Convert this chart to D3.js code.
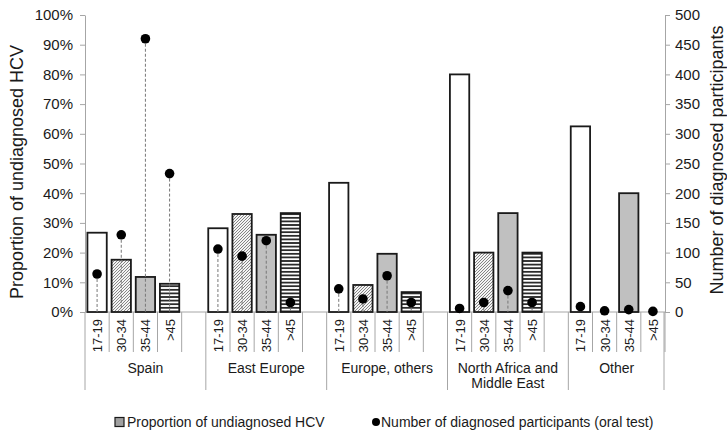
<!DOCTYPE html>
<html>
<head>
<meta charset="utf-8">
<script src="https://cdn.jsdelivr.net/npm/d3@7"></script>
<style>
  body { margin: 0; background: #fff; }
  svg text { font-family: "Liberation Sans", Arial, sans-serif; fill: #1a1a1a; }
  .axis path, .axis line { stroke: #a6a6a6; }
</style>
</head>
<body>
<div id="chart-area"></div>
<script>
// regions and age groups on the x axis
var regions = ["Spain", "East Europe", "Europe, others", "North Africa and Middle East", "Other"];
var regionLabels = [["Spain"], ["East Europe"], ["Europe, others"], ["North Africa and", "Middle East"], ["Other"]];
var ageGroups = ["17-19", "30-34", "35-44", ">45"];

// proportion of undiagnosed HCV (%), one row per region
var undiagnosedPct = [
  [26.7, 17.6, 11.8, 9.5],
  [28.2, 33.0, 26.0, 33.3],
  [43.5, 9.1, 19.6, 6.7],
  [80.0, 20.0, 33.3, 20.0],
  [62.5, 0, 40.0, 0]
];

// number of diagnosed participants (oral test)
var diagnosedCount = [
  [64, 130, 460, 233],
  [106, 94, 120, 16],
  [39, 22, 61, 16],
  [6, 16, 36, 16],
  [9, 2, 4, 1]
];

var leftTicks = [0, 0.1, 0.2, 0.3, 0.4, 0.5, 0.6, 0.7, 0.8, 0.9, 1];
var rightTicks = [0, 50, 100, 150, 200, 250, 300, 350, 400, 450, 500];
var fills = ["#ffffff", "url(#hatch)", "#c0c0c0", "url(#stripes)"];

var width = 727, height = 430;
var plot = { left: 85, right: 665, top: 15, bottom: 312 };

var svg = d3.select("#chart-area").append("svg")
  .attr("width", width)
  .attr("height", height);

// patterns for the bars
var defs = svg.append("defs");
var hatch = defs.append("pattern")
  .attr("id", "hatch")
  .attr("patternUnits", "userSpaceOnUse")
  .attr("width", 3).attr("height", 3);
hatch.append("rect").attr("width", 3).attr("height", 3).attr("fill", "#f4f4f4");
hatch.append("path")
  .attr("d", "M-1,1 l2,-2 M0,3 l3,-3 M2,4 l2,-2")
  .attr("stroke", "#555").attr("stroke-width", 0.7);

var stripes = defs.append("pattern")
  .attr("id", "stripes")
  .attr("patternUnits", "userSpaceOnUse")
  .attr("width", 4).attr("height", 3.6);
stripes.append("rect").attr("width", 4).attr("height", 3.6).attr("fill", "#fff");
stripes.append("rect").attr("y", 1).attr("width", 4).attr("height", 1.6).attr("fill", "#111");

// build slots: 4 age groups per region plus an empty slot between regions
var slots = [];
var data = [];
regions.forEach(function(r, i) {
  ageGroups.forEach(function(a, j) {
    var key = r + "|" + a;
    slots.push(key);
    data.push({ key: key, region: r, age: a, pct: undiagnosedPct[i][j] / 100, n: diagnosedCount[i][j] });
  });
  if (i < regions.length - 1) slots.push("gap" + i);
});

var x = d3.scaleBand()
  .domain(slots)
  .range([plot.left, plot.right])
  .padding(0);

var yLeft = d3.scaleLinear().domain([0, 1]).range([plot.bottom, plot.top]);
var yRight = d3.scaleLinear().domain([0, 500]).range([plot.bottom, plot.top]);

// axes
var leftAxis = d3.axisLeft(yLeft)
  .tickValues(leftTicks)
  .tickFormat(d3.format(".0%"))
  .tickSize(5).tickPadding(7).tickSizeOuter(0);

var rightAxis = d3.axisRight(yRight)
  .tickValues(rightTicks)
  .tickSize(5).tickPadding(5).tickSizeOuter(0);

var gLeft = svg.append("g")
  .attr("class", "axis")
  .attr("transform", "translate(" + plot.left + ",0)")
  .call(leftAxis);
gLeft.select(".domain").attr("stroke", "#a6a6a6");
gLeft.selectAll("text").style("font-size", "15px");

var gRight = svg.append("g")
  .attr("class", "axis")
  .attr("transform", "translate(" + plot.right + ",0)")
  .call(rightAxis);
gRight.select(".domain").attr("stroke", "#a6a6a6");
gRight.selectAll("text").style("font-size", "15px");

// baseline
svg.append("line")
  .attr("x1", plot.left).attr("x2", plot.right)
  .attr("y1", plot.bottom).attr("y2", plot.bottom)
  .attr("stroke", "#a6a6a6");

// bars
var barW = x.bandwidth() * 0.8;
svg.selectAll(".bar")
  .data(data.filter(function(d) { return d.pct > 0; }))
  .enter().append("rect")
  .attr("class", "bar")
  .attr("x", function(d) { return x(d.key) + (x.bandwidth() - barW) / 2; })
  .attr("y", function(d) { return yLeft(d.pct); })
  .attr("width", barW)
  .attr("height", function(d) { return plot.bottom - yLeft(d.pct); })
  .attr("fill", function(d) { return fills[ageGroups.indexOf(d.age)]; })
  .attr("stroke", "#1a1a1a")
  .attr("stroke-width", 1.8);

// dashed drop lines and dots
svg.selectAll(".drop")
  .data(data)
  .enter().append("line")
  .attr("class", "drop")
  .attr("x1", function(d) { return x(d.key) + x.bandwidth() / 2; })
  .attr("x2", function(d) { return x(d.key) + x.bandwidth() / 2; })
  .attr("y1", function(d) { return yRight(d.n); })
  .attr("y2", plot.bottom)
  .attr("stroke", "#777")
  .attr("stroke-width", 1)
  .attr("stroke-dasharray", "3,2");

svg.selectAll(".dot")
  .data(data)
  .enter().append("circle")
  .attr("class", "dot")
  .attr("cx", function(d) { return x(d.key) + x.bandwidth() / 2; })
  .attr("cy", function(d) { return yRight(d.n); })
  .attr("r", 4.8)
  .attr("fill", "#000");

// category axis: age labels and separators
var catLines = svg.append("g");
data.forEach(function(d, k) {
  var j = ageGroups.indexOf(d.age);
  var x0 = x(d.key);
  catLines.append("line")
    .attr("x1", x0).attr("x2", x0)
    .attr("y1", plot.bottom).attr("y2", j === 0 ? 390 : 352)
    .attr("stroke", "#a6a6a6");
  if (j === ageGroups.length - 1) {
    catLines.append("line")
      .attr("x1", x0 + x.bandwidth()).attr("x2", x0 + x.bandwidth())
      .attr("y1", plot.bottom).attr("y2", 352)
      .attr("stroke", "#a6a6a6");
  }
});
catLines.append("line")
  .attr("x1", plot.right - 1).attr("x2", plot.right - 1)
  .attr("y1", plot.bottom).attr("y2", 390)
  .attr("stroke", "#a6a6a6");

svg.selectAll(".age-label")
  .data(data)
  .enter().append("text")
  .attr("class", "age-label")
  .attr("text-anchor", "end")
  .attr("transform", function(d) {
    return "translate(" + (x(d.key) + x.bandwidth() / 2 + 5) + ",319) rotate(-90)";
  })
  .style("font-size", "13px")
  .text(function(d) { return d.age; });

// region labels
regions.forEach(function(r, i) {
  var first = x(r + "|" + ageGroups[0]);
  var next = i < regions.length - 1 ? x(regions[i + 1] + "|" + ageGroups[0]) : plot.right;
  var t = svg.append("text")
    .attr("text-anchor", "middle")
    .attr("x", (first + next) / 2)
    .attr("y", 373)
    .style("font-size", "14px");
  regionLabels[i].forEach(function(line, li) {
    t.append("tspan")
      .attr("x", (first + next) / 2)
      .attr("dy", li === 0 ? 0 : 15)
      .text(line);
  });
});

// axis titles
svg.append("text")
  .attr("text-anchor", "middle")
  .attr("transform", "translate(23,172) rotate(-90)")
  .style("font-size", "18px")
  .text("Proportion of undiagnosed HCV");

svg.append("text")
  .attr("text-anchor", "middle")
  .attr("transform", "translate(723,160) rotate(-90)")
  .style("font-size", "18px")
  .text("Number of diagnosed participants");

// legend
svg.append("rect")
  .attr("x", 115).attr("y", 417.5)
  .attr("width", 9).attr("height", 9)
  .attr("fill", "#a0a0a0")
  .attr("stroke", "#1a1a1a").attr("stroke-width", 1.2);
svg.append("text")
  .attr("x", 127).attr("y", 427)
  .style("font-size", "14px")
  .text("Proportion of undiagnosed HCV");

svg.append("circle")
  .attr("cx", 376).attr("cy", 422)
  .attr("r", 4).attr("fill", "#000");
svg.append("text")
  .attr("x", 381).attr("y", 427)
  .style("font-size", "14px")
  .text("Number of diagnosed participants (oral test)");
</script>
</body>
</html>
